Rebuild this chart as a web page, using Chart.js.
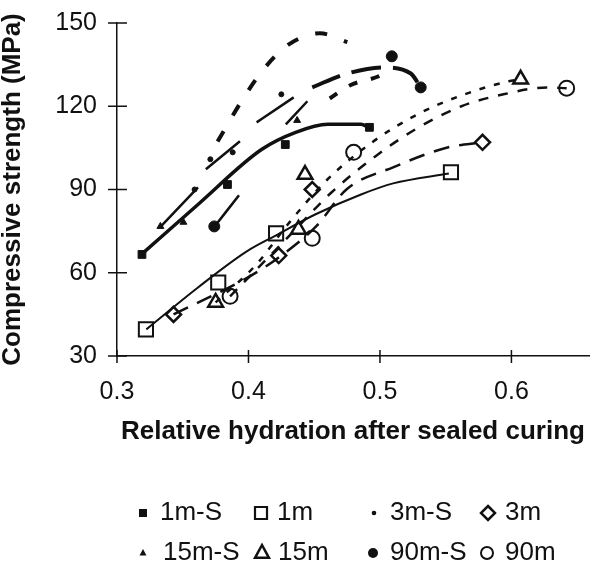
<!DOCTYPE html>
<html>
<head>
<meta charset="utf-8">
<script src="https://cdn.jsdelivr.net/npm/chart.js@4.4.1/dist/chart.umd.min.js"></script>
<style>
html, body { margin: 0; padding: 0; background: #fff; }
#wrap { width: 601px; height: 566px; }
</style>
</head>
<body>
<div id="wrap"><canvas id="myChart" width="601" height="566"></canvas></div>
<script>
// relative hydration (x) vs compressive strength (y)
const names = ['1m-S', '1m', '3m-S', '3m', '15m-S', '15m', '90m-S', '90m'];

const x1mS = [0.319, 0.384, 0.428, 0.492];
const y1mS = [66.6, 91.8, 106.2, 112.4];
const x1m = [0.322, 0.377, 0.421, 0.554];
const y1m = [39.6, 56.5, 74.2, 96.2];
const x3mS = [0.359, 0.371, 0.388, 0.425];
const y3mS = [90.0, 100.9, 103.4, 124.3];
const x3m = [0.343, 0.423, 0.4485, 0.578];
const y3m = [45.0, 66.2, 90.0, 107.0];
const x15mS = [0.333, 0.3505, 0.437];
const y15mS = [76.7, 78.2, 114.9];
const x15m = [0.375, 0.438, 0.443, 0.607];
const y15m = [49.3, 75.6, 95.4, 129.7];
const x90mS = [0.374, 0.509, 0.531];
const y90mS = [76.7, 138.0, 126.8];
const x90m = [0.386, 0.4485, 0.480, 0.642];
const y90m = [51.5, 72.4, 103.4, 126.5];

// trend curves
const tr1mSx = [0.3186, 0.3616, 0.4099, 0.4359, 0.4604, 0.4856, 0.4915];
const tr1mSy = [66.6, 84.6, 104.4, 110.6, 113.5, 113.5, 112.4];
const tr1mx = [0.3223, 0.3616, 0.3987, 0.421, 0.4507, 0.4856, 0.51, 0.5524];
const tr1my = [39.6, 54.7, 67.7, 73.5, 81.0, 88.2, 92.2, 95.8];
const tr3mx = [0.343, 0.401, 0.423, 0.452, 0.4745, 0.51, 0.552, 0.578];
const tr3my = [45.0, 58.7, 65.5, 77.0, 90.0, 98.0, 105.2, 107.0];
const tr15mx = [0.375, 0.406, 0.43, 0.46, 0.494, 0.5287, 0.562, 0.598, 0.6066];
const tr15my = [49.3, 63.0, 77.5, 93.6, 107.0, 117.1, 123.9, 129.0, 129.7];
const tr90mx = [0.386, 0.4284, 0.4633, 0.4967, 0.527, 0.562, 0.594, 0.627, 0.642];
const tr90my = [51.5, 72.0, 89.0, 102.0, 111.7, 120.0, 124.3, 126.8, 126.5];
const trTopx = [0.3765, 0.3965, 0.4114, 0.4307, 0.4544, 0.4752];
const trTopy = [107.3, 123.2, 133.3, 142.3, 146.3, 143.1];
const trAx = [0.4485, 0.473, 0.5027, 0.5235, 0.531];
const trAy = [126.8, 131.5, 134.0, 131.8, 126.8];
const trBx = [0.4618, 0.477, 0.5, 0.5086];
const trBy = [122.8, 127.5, 131.0, 133.5];
// short straight pieces, null splits them
const segX = [0.3334, 0.3616, null, 0.3676, 0.3935, null, 0.4062, 0.4344, null, 0.3742, 0.3928, null, 0.4284, 0.4448];
const segY = [76.7, 90.8, null, 97.3, 107.4, null, 114.2, 123.2, null, 76.7, 87.9, null, 113.5, 121.8];

const xTicks = [0.3, 0.4, 0.5, 0.6];
const yTicks = [30, 60, 90, 120, 150];

const ink = '#111';
const pts = (xs, ys) => xs.map((x, i) => ({ x: x, y: ys[i] }));

function marks(label, xs, ys, style, r, filled, bw) {
    return {
        label: label,
        data: pts(xs, ys),
        pointStyle: style,
        pointRadius: r,
        pointBorderWidth: bw,
        pointBackgroundColor: filled ? ink : 'rgba(0,0,0,0)',
        pointBorderColor: ink,
        showLine: false
    };
}

function trend(xs, ys, width, dash) {
    return {
        label: '',
        data: pts(xs, ys),
        showLine: true,
        pointRadius: 0,
        borderColor: ink,
        borderWidth: width,
        borderDash: dash,
        borderCapStyle: 'butt',
        cubicInterpolationMode: 'monotone',
        spanGaps: false
    };
}

// legend layout: [style, filled, half-size, lineWidth, markX, textX, rowY]
const legendItems = [
    ['rect', true, 4, 0, 143, 160, 513],
    ['rect', false, 6, 2.2, 261, 277, 513],
    ['circle', true, 2.3, 0, 374, 390, 513],
    ['rectRot', false, 7, 2.5, 488, 505, 513],
    ['triangle', true, 4, 0, 143, 163, 553],
    ['triangle', false, 8, 2.5, 262, 278, 553],
    ['circle', true, 5, 0, 373, 390, 553],
    ['circle', false, 6, 2, 487, 505, 553]
];

function mark(ctx, style, filled, r, lw, x, y) {
    ctx.beginPath();
    if (style === 'rect') {
        ctx.rect(x - r, y - r, 2 * r, 2 * r);
    } else if (style === 'rectRot') {
        ctx.moveTo(x, y - r); ctx.lineTo(x + r, y); ctx.lineTo(x, y + r); ctx.lineTo(x - r, y); ctx.closePath();
    } else if (style === 'triangle') {
        ctx.moveTo(x, y - r); ctx.lineTo(x + r * 0.87, y + r * 0.6); ctx.lineTo(x - r * 0.87, y + r * 0.6); ctx.closePath();
    } else {
        ctx.arc(x, y, r, 0, Math.PI * 2);
    }
    if (filled) { ctx.fill(); } else { ctx.lineWidth = lw; ctx.stroke(); }
}

const decor = {
    id: 'decor',
    afterDraw(chart) {
        const ctx = chart.ctx;
        const sx = chart.scales.x, sy = chart.scales.y;
        ctx.save();
        ctx.strokeStyle = ink;
        ctx.fillStyle = ink;
        ctx.lineWidth = 1.5;
        ctx.beginPath();
        xTicks.forEach(v => {
            const p = sx.getPixelForValue(v);
            ctx.moveTo(p, sy.bottom - 6); ctx.lineTo(p, sy.bottom + 7);
        });
        yTicks.forEach(v => {
            const p = sy.getPixelForValue(v);
            ctx.moveTo(sx.left - 9, p); ctx.lineTo(sx.left + 10, p);
        });
        ctx.stroke();

        ctx.font = '26px "Liberation Sans", Arial, sans-serif';
        ctx.textBaseline = 'middle';
        ctx.textAlign = 'left';
        legendItems.forEach((it, i) => {
            mark(ctx, it[0], it[1], it[2], it[3], it[4], it[6]);
            ctx.fillText(names[i], it[5], it[6]);
        });
        ctx.restore();
    }
};

Chart.defaults.font.family = '"Liberation Sans", Arial, sans-serif';
Chart.defaults.color = ink;

const myChart = new Chart(document.getElementById('myChart').getContext('2d'), {
    type: 'scatter',
    data: {
        datasets: [
            marks(names[0], x1mS, y1mS, 'rect', 5.5, true, 1),
            marks(names[1], x1m, y1m, 'rect', 10, false, 2),
            marks(names[2], x3mS, y3mS, 'circle', 2.5, true, 1),
            marks(names[3], x3m, y3m, 'rectRot', 7.5, false, 2.5),
            marks(names[4], x15mS, y15mS, 'triangle', 4, true, 1),
            marks(names[5], x15m, y15m, 'triangle', 8.5, false, 2.5),
            marks(names[6], x90mS, y90mS, 'circle', 5.5, true, 1),
            marks(names[7], x90m, y90m, 'circle', 7.5, false, 2),
            trend(tr1mSx, tr1mSy, 3.5, []),
            trend(tr1mx, tr1my, 2, []),
            trend(tr3mx, tr3my, 2.5, [16, 10]),
            trend(tr15mx, tr15my, 2.5, [6, 9]),
            trend(tr90mx, tr90my, 2.5, [10, 10]),
            trend(trTopx, trTopy, 4, [12, 18]),
            trend(trAx, trAy, 4, [30, 12]),
            trend(trBx, trBy, 4, [9, 14]),
            trend(segX, segY, 2.5, [])
        ]
    },
    options: {
        responsive: false,
        animation: false,
        layout: { padding: { top: 23, left: 0, right: 0, bottom: 110 } },
        plugins: {
            legend: { display: false },
            tooltip: { enabled: false }
        },
        scales: {
            x: {
                type: 'linear',
                min: 0.3,
                max: 0.659,
                afterBuildTicks: s => { s.ticks = xTicks.map(v => ({ value: v })); },
                afterFit: s => { s.height = 100; s.paddingLeft = 0; s.paddingRight = 0; },
                grid: { display: false, drawTicks: false },
                border: { display: true, color: ink, width: 1.5 },
                ticks: { font: { size: 25 }, padding: 21, callback: v => v.toFixed(1) },
                title: {
                    display: true,
                    text: 'Relative hydration after sealed curing',
                    font: { size: 26, weight: 'bold', lineHeight: 1 },
                    padding: { top: 0, bottom: 11 }
                }
            },
            y: {
                min: 30,
                max: 150,
                afterBuildTicks: s => { s.ticks = yTicks.map(v => ({ value: v })); },
                afterFit: s => { s.width = 117; s.paddingTop = 0; s.paddingBottom = 0; },
                grid: { display: false, drawTicks: false },
                border: { display: true, color: ink, width: 1.5 },
                ticks: { font: { size: 25 }, padding: 20 },
                title: {
                    display: true,
                    text: 'Compressive strength (MPa)',
                    font: { size: 26, weight: 'bold', lineHeight: 1 },
                    padding: { top: 0, bottom: 0 }
                }
            }
        }
    },
    plugins: [decor]
});
</script>
</body>
</html>
